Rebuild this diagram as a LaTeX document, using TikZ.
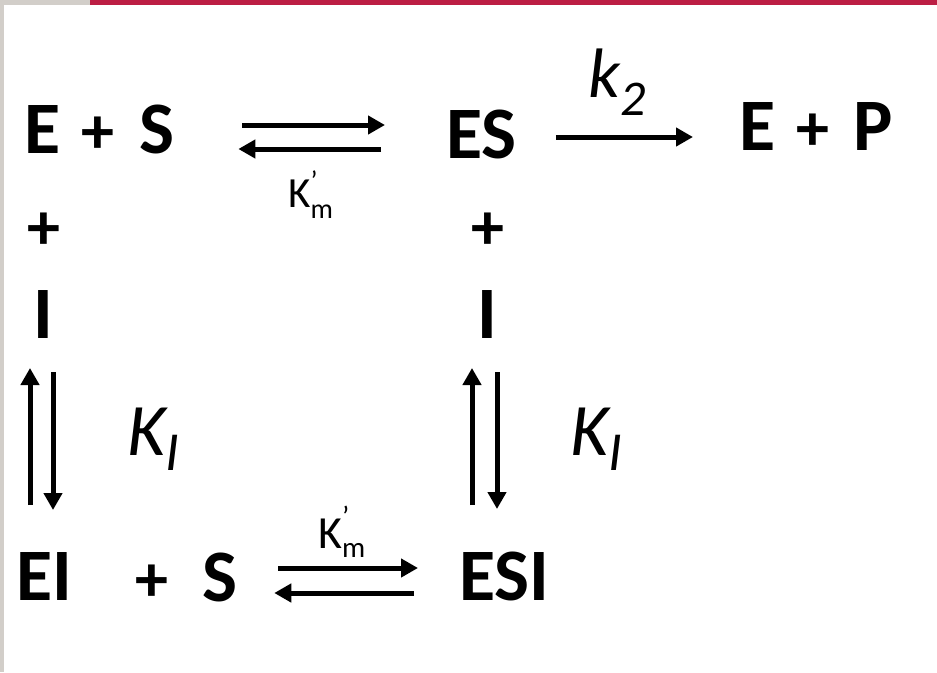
\documentclass[tikz,border=0pt]{standalone}
\usepackage{fontspec}
\setmainfont{Carlito}
\usetikzlibrary{arrows.meta}
\definecolor{frame}{RGB}{210,206,201}
\definecolor{bar}{RGB}{188,30,68}
\newcommand{\pl}{{\fontsize{66}{66}\selectfont +}}
\newcommand{\tick}{\char39}
\tikzset{
  sp/.style={font=\fontsize{74}{74}\selectfont\bfseries, inner sep=0pt},
  lbl/.style={inner sep=0pt, anchor=base west},
  rxn/.style={line width=5pt, -{Triangle[length=17pt,width=18pt]}},
}
\begin{document}
\begin{tikzpicture}[x=1pt,y=-1pt]
\useasboundingbox (0,0) rectangle (937,672);
\fill[white] (0,0) rectangle (937,672);
\fill[frame] (0,0) rectangle (4,672);
\fill[frame] (0,0) rectangle (90,5);
\fill[bar] (90,0) rectangle (937,5);

% species
\node[sp, anchor=base west] (es) at (24,153) {E\hspace{21pt}\pl\hspace{25pt}S};
\node[sp, anchor=base west] (ES) at (446,158) {ES};
\node[sp, anchor=base west] (EP) at (739,150) {E\hspace{21pt}\pl\hspace{24pt}P};
\node[sp, anchor=base] (p1) at (44,249) {\pl};
\node[sp, anchor=base] (I1) at (43.5,338) {I};
\node[sp, anchor=base] (p2) at (487.5,249) {\pl};
\node[sp, anchor=base] (I2) at (487,338) {I};
\node[sp, anchor=base west] (EI) at (16,600) {EI};
\node[sp, anchor=base west] (ps) at (135,601) {\pl\hspace{34pt}S};
\node[sp, anchor=base west] (ESI) at (459,600) {ESI};

% labels
\node[lbl, font=\fontsize{43}{43}\selectfont] (km1) at (288,207)
  {K\rlap{\raisebox{17pt}{\fontsize{28}{28}\selectfont\tick}}\raisebox{-11pt}{\fontsize{28}{28}\selectfont m}};
\node[lbl, font=\fontsize{46}{46}\selectfont] (km2) at (318,548)
  {K\rlap{\raisebox{22pt}{\fontsize{29}{29}\selectfont\tick}}\raisebox{-9pt}{\fontsize{29}{29}\selectfont m}};
\node[lbl, font=\fontsize{70}{70}\selectfont\itshape] (k2) at (588,97)
  {k\raisebox{-18pt}{\fontsize{50}{50}\selectfont 2}};
\node[lbl, font=\fontsize{74}{74}\selectfont\itshape] (ki1) at (127,455)
  {K\raisebox{-15pt}{\fontsize{55}{55}\selectfont I}};
\node[lbl, font=\fontsize{74}{74}\selectfont\itshape] (ki2) at (570,455)
  {K\raisebox{-15pt}{\fontsize{55}{55}\selectfont I}};

% top equilibrium
\draw[rxn] ([xshift=68pt,yshift=28pt]es.base east) -- ([xshift=-61pt,yshift=33pt]ES.base west);
\draw[rxn] ([xshift=-65pt,yshift=9pt]ES.base west) -- ([xshift=64pt,yshift=4pt]es.base east);
% k2
\draw[rxn] ([xshift=39pt,yshift=21pt]ES.base east) -- ([xshift=-46pt,yshift=13pt]EP.base west);
% bottom equilibrium
\draw[rxn] ([xshift=41pt,yshift=33pt]ps.base east) -- ([xshift=-41pt,yshift=32pt]ESI.base west);
\draw[rxn] ([xshift=-45pt,yshift=7pt]ESI.base west) -- ([xshift=37pt,yshift=8pt]ps.base east);
% left vertical
\draw[rxn] ([xshift=14pt,yshift=95pt]EI.base west) -- ([xshift=-13.5pt,yshift=-30pt]I1.base);
\draw[rxn] ([xshift=9.5pt,yshift=-34pt]I1.base) -- ([xshift=37pt,yshift=90pt]EI.base west);
% right vertical
\draw[rxn] ([xshift=13pt,yshift=95pt]ESI.base west) -- ([xshift=-15pt,yshift=-30pt]I2.base);
\draw[rxn] ([xshift=10pt,yshift=-34pt]I2.base) -- ([xshift=38pt,yshift=91pt]ESI.base west);
\end{tikzpicture}
\end{document}
